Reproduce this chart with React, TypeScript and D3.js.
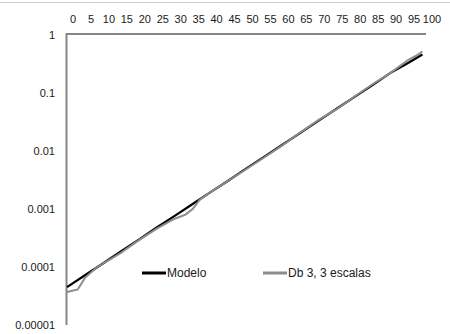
import React, { useRef, useEffect } from 'react';
import * as d3 from 'd3';

// x categories (percent) with values
const modeloX = [0, 5, 10, 15, 20, 25, 30, 35, 40, 45, 50, 55, 60, 65, 70, 75, 80, 85, 90, 95, 99];
const modeloY = [4.5e-5, 7.2e-5, 1.15e-4, 1.85e-4, 2.95e-4, 4.8e-4, 7.6e-4, 1.22e-3, 1.95e-3, 3.1e-3,
  5.0e-3, 8.0e-3, 0.0128, 0.0205, 0.033, 0.053, 0.085, 0.135, 0.22, 0.33, 0.46];

const dbX = [0, 3, 5, 8, 10, 12, 15, 20, 25, 28, 30, 33, 35, 37, 40, 45, 50, 55, 60, 65, 70, 75, 80, 85, 90, 93, 95, 97, 99];
const dbY = [3.7e-5, 4.1e-5, 6.5e-5, 9.5e-5, 1.15e-4, 1.35e-4, 1.75e-4, 2.9e-4, 4.6e-4, 5.8e-4, 6.8e-4,
  8.0e-4, 1.0e-3, 1.45e-3, 1.95e-3, 3.1e-3, 4.9e-3, 7.8e-3, 0.0125, 0.021, 0.034, 0.052, 0.086, 0.14,
  0.22, 0.3, 0.37, 0.43, 0.52];

const xTicks = [0, 5, 10, 15, 20, 25, 30, 35, 40, 45, 50, 55, 60, 65, 70, 75, 80, 85, 90, 95, 100];
const yTicks = [1, 0.1, 0.01, 0.001, 0.0001, 0.00001];
const yTickLabels = ['1', '0.1', '0.01', '0.001', '0.0001', '0.00001'];

const seriesNames = ['Modelo', 'Db 3, 3 escalas'];
const seriesColors = ['#000000', '#8c8c8c'];

const W = 450, H = 334;
const font = '"Liberation Sans", Arial, sans-serif';

const App = () => {
  const ref = useRef<SVGSVGElement>(null);

  useEffect(() => {
    const svg = d3.select(ref.current);
    svg.selectAll('*').remove();

    const x = d3.scaleLinear().domain([0, 100]).range([67, 426]);
    const y = d3.scaleLog().domain([1e-5, 1]).range([325, 35]);

    // faint border line at the top of the crop
    svg.append('line')
      .attr('x1', 0).attr('x2', W).attr('y1', 2.5).attr('y2', 2.5)
      .attr('stroke', '#d0d0d0').attr('stroke-width', 1);

    // axes
    svg.append('line')
      .attr('x1', x(0)).attr('x2', x(100)).attr('y1', y(1) - 1).attr('y2', y(1) - 1)
      .attr('stroke', '#868686').attr('stroke-width', 2);
    svg.append('line')
      .attr('x1', x(0) - 0.5).attr('x2', x(0) - 0.5).attr('y1', y(1) - 2).attr('y2', y(1e-5))
      .attr('stroke', '#868686').attr('stroke-width', 2);

    // x tick labels (top)
    svg.append('g').selectAll('text').data(xTicks).join('text')
      .attr('x', (d) => x(d) + 6)
      .attr('y', 23)
      .attr('text-anchor', 'middle')
      .style('font-family', font).style('font-size', '11px').style('fill', '#1a1a1a')
      .text((d) => String(d));

    // y tick labels
    svg.append('g').selectAll('text').data(yTicks).join('text')
      .attr('x', 55)
      .attr('y', (d) => y(d) + 4)
      .attr('text-anchor', 'end')
      .style('font-family', font).style('font-size', '11px').style('fill', '#1a1a1a')
      .text((d, i) => yTickLabels[i]);

    const line = d3.line<[number, number]>()
      .x((d) => x(d[0]))
      .y((d) => y(d[1]));

    const modelo: [number, number][] = modeloX.map((v, i) => [v, modeloY[i]]);
    const db: [number, number][] = dbX.map((v, i) => [v, dbY[i]]);

    svg.append('path')
      .datum(modelo)
      .attr('fill', 'none')
      .attr('stroke', seriesColors[0])
      .attr('stroke-width', 2.2)
      .attr('d', line);

    svg.append('path')
      .datum(db)
      .attr('fill', 'none')
      .attr('stroke', seriesColors[1])
      .attr('stroke-width', 2)
      .attr('d', line);

    // Handmade legend
    const legendX = [142, 263];
    const legendY = 273;
    seriesNames.forEach((name, i) => {
      svg.append('line')
        .attr('x1', legendX[i]).attr('x2', legendX[i] + 24)
        .attr('y1', legendY).attr('y2', legendY)
        .attr('stroke', seriesColors[i]).attr('stroke-width', 3);
      svg.append('text')
        .attr('x', legendX[i] + 25).attr('y', legendY + 4)
        .style('font-family', font).style('font-size', '12px').style('fill', '#1a1a1a')
        .text(name);
    });
  }, []);

  return (
    <svg ref={ref} width={W} height={H}
      style={{ position: 'absolute', left: 0, top: 0, background: '#fff' }} />
  );
};

export default App;
